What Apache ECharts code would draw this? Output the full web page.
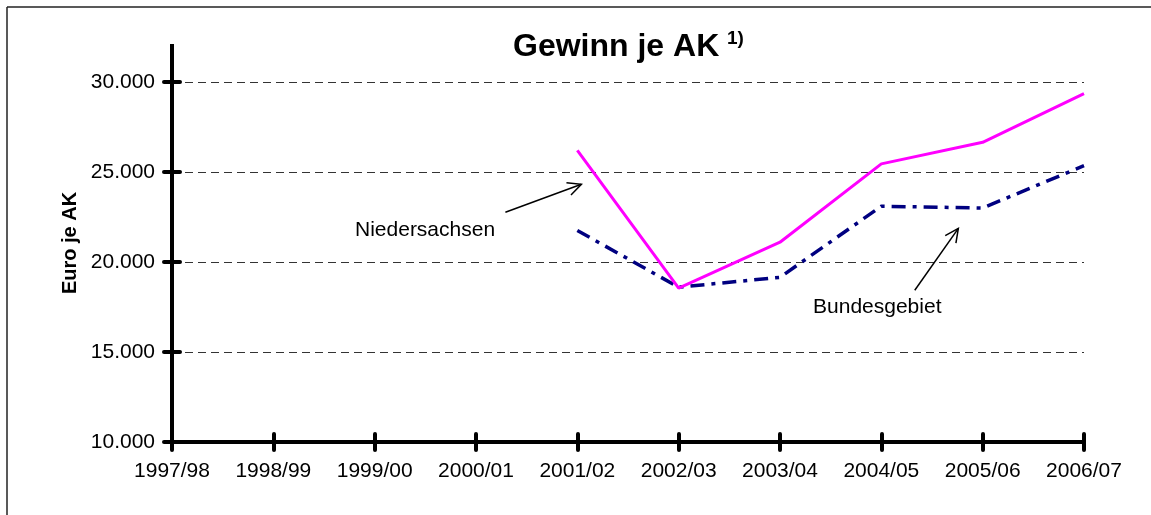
<!DOCTYPE html>
<html>
<head>
<meta charset="utf-8">
<script src="https://cdn.jsdelivr.net/npm/echarts@6/dist/echarts.min.js"></script>
<style>
  html, body { margin: 0; padding: 0; background: #fff; }
  #main { width: 1151px; height: 515px; }
</style>
</head>
<body>
<div id="main"></div>
<script>
var categories = ['1997/98', '1998/99', '1999/00', '2000/01', '2001/02', '2002/03', '2003/04', '2004/05', '2005/06', '2006/07'];
var niedersachsen = [null, null, null, null, 26200, 18550, 21100, 25450, 26650, 29350];
var bundesgebiet = [null, null, null, null, 21750, 18600, 19150, 23100, 23000, 25350];
var yTicks = [10000, 15000, 20000, 25000, 30000];

// annotation: label anchor and arrow (tail -> head), x as fractional category index
var noteNi = { text: 'Niedersachsen', at: [1.806, 21760], from: [3.29, 22760], to: [4.04, 24320] };
var noteBu = { text: 'Bundesgebiet', at: [6.326, 17480], from: [7.33, 18430], to: [7.76, 21870] };

var font = 'Liberation Sans, Arial, sans-serif';

var chartDom = document.getElementById('main');
var myChart = echarts.init(chartDom);
var option;

function fmt(v) {
  return (v / 1000).toFixed(3);
}

option = {
  animation: false,
  backgroundColor: '#fff',
  title: {
    text: 'Gewinn je AK',
    left: 513,
    top: 31,
    padding: 0,
    textStyle: { fontFamily: font, fontSize: 32, fontWeight: 'bold', color: '#000' }
  },
  grid: {
    left: 172,
    right: 67,
    top: 82,
    bottom: 73
  },
  xAxis: [
    {
      type: 'category',
      data: categories,
      boundaryGap: false,
      axisLine: { lineStyle: { color: '#000', width: 4 } },
      axisTick: { show: true, length: 8, lineStyle: { color: '#000', width: 4, cap: 'round' } },
      axisLabel: { margin: 19, color: '#000', fontFamily: font, fontSize: 21 },
      splitLine: { show: false }
    },
    {
      type: 'category',
      data: categories,
      boundaryGap: false,
      position: 'bottom',
      axisLine: { show: false },
      axisTick: { show: true, inside: true, length: 8, lineStyle: { color: '#000', width: 4, cap: 'round' } },
      axisLabel: { show: false },
      splitLine: { show: false }
    }
  ],
  yAxis: [
    {
      type: 'value',
      min: yTicks[0],
      max: yTicks[yTicks.length - 1],
      interval: 5000,
      axisLine: { show: true, lineStyle: { color: '#000', width: 4 } },
      axisTick: { show: true, length: 8, lineStyle: { color: '#000', width: 4, cap: 'round' } },
      axisLabel: { margin: 17, color: '#000', fontFamily: font, fontSize: 21, formatter: fmt },
      splitLine: { show: true, lineStyle: { color: '#333', width: 1, type: [8, 5] } }
    },
    {
      type: 'value',
      min: yTicks[0],
      max: yTicks[yTicks.length - 1],
      interval: 5000,
      position: 'left',
      axisLine: { show: false },
      axisTick: { show: true, inside: true, length: 8, lineStyle: { color: '#000', width: 4, cap: 'round' } },
      axisLabel: { show: false },
      splitLine: { show: false }
    }
  ],
  series: [
    {
      name: 'Niedersachsen',
      type: 'line',
      data: niedersachsen,
      symbol: 'none',
      z: 3,
      lineStyle: { color: '#ff00ff', width: 3 }
    },
    {
      name: 'Bundesgebiet',
      type: 'line',
      data: bundesgebiet,
      symbol: 'none',
      z: 2,
      lineStyle: { color: '#000080', width: 3.5, type: [14, 7, 4, 7] }
    }
  ]
};

option && myChart.setOption(option);

// category axis rounds fractional indices, so interpolate between two categories
function px(p) {
  var a = myChart.convertToPixel({ gridIndex: 0 }, [0, p[1]]);
  var b = myChart.convertToPixel({ gridIndex: 0 }, [1, p[1]]);
  return [a[0] + (b[0] - a[0]) * p[0], a[1]];
}

function arrow(from, to) {
  var a = px(from), b = px(to);
  var ang = Math.atan2(b[1] - a[1], b[0] - a[0]);
  var len = 15, spread = 0.45;
  var l = [b[0] - len * Math.cos(ang - spread), b[1] - len * Math.sin(ang - spread)];
  var r = [b[0] - len * Math.cos(ang + spread), b[1] - len * Math.sin(ang + spread)];
  return [
    { type: 'line', shape: { x1: a[0], y1: a[1], x2: b[0], y2: b[1] }, style: { stroke: '#000', lineWidth: 1.5 }, z: 10 },
    { type: 'polyline', shape: { points: [l, b, r] }, style: { stroke: '#000', lineWidth: 1.5, fill: null }, z: 10 }
  ];
}

function note(n) {
  var p = px(n.at);
  return {
    type: 'text', x: p[0], y: p[1], z: 10,
    style: { text: n.text, font: '21px ' + font, fill: '#000', verticalAlign: 'middle' }
  };
}

var axisTop = px([0, 30000]);
var graphics = [
  { type: 'line', shape: { x1: 7, y1: 7, x2: 1151, y2: 7 }, style: { stroke: '#222', lineWidth: 1.5 } },
  { type: 'line', shape: { x1: 7, y1: 7, x2: 7, y2: 515 }, style: { stroke: '#222', lineWidth: 1.5 } },
  { type: 'line', shape: { x1: axisTop[0], y1: 44, x2: axisTop[0], y2: axisTop[1] }, style: { stroke: '#000', lineWidth: 4 } },
  {
    type: 'text', x: 70, y: 243, rotation: Math.PI / 2,
    style: { text: 'Euro je AK', font: 'bold 20px ' + font, fill: '#000', align: 'center', verticalAlign: 'middle' }
  },
  {
    type: 'text', x: 727, y: 29,
    style: { text: '1)', font: 'bold 19px ' + font, fill: '#000', align: 'left', verticalAlign: 'top' }
  },
  note(noteNi),
  note(noteBu)
].concat(arrow(noteNi.from, noteNi.to), arrow(noteBu.from, noteBu.to));

myChart.setOption({ graphic: graphics });
</script>
</body>
</html>
